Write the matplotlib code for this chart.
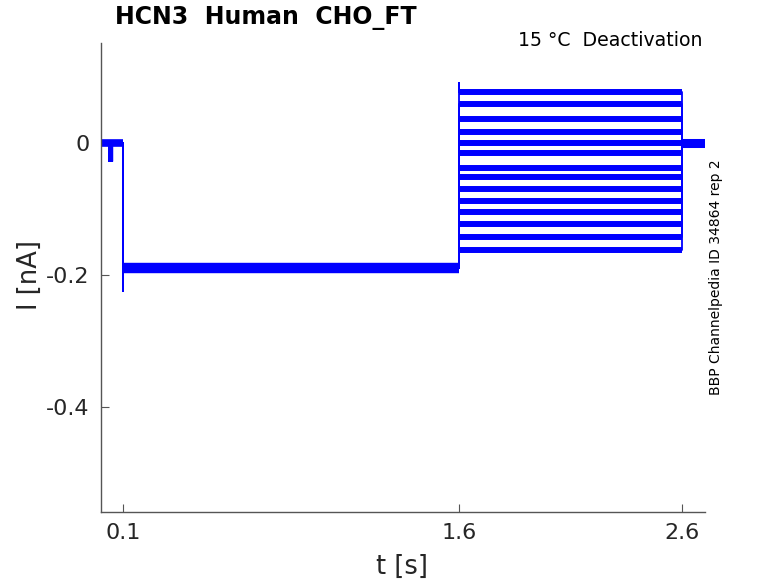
import matplotlib
matplotlib.use("Agg")
import matplotlib.pyplot as plt

# time points (s) of the protocol: baseline, holding, test pulse, tail
t_start = 0.0
t_dip = [0.036, 0.050]
t_hold = 0.1
t_test = 1.6
t_end = 2.6
t_stop = 2.7

# currents (nA)
base_level = 0.0
dip_level = -0.027
hold_spike = -0.224
hold_level = -0.19
test_spike = 0.092
test_levels = [0.078, 0.059, 0.036, 0.017, 0.0005, -0.015, -0.037,
               -0.051, -0.069, -0.088, -0.104, -0.123, -0.142, -0.162]
tail_level = 0.0

col = "#0000ff"

fig = plt.figure(figsize=(7.78, 5.83), dpi=100)
ax = fig.add_axes([0.1298, 0.1213, 0.776, 0.8049])

for k, lev in enumerate(test_levels):
    top = test_spike if k == 0 else lev
    t = [t_start, t_dip[0], t_dip[0], t_dip[1], t_dip[1], t_hold, t_hold, t_hold,
         t_test, t_test, t_test, t_end, t_end, t_stop]
    y = [base_level, base_level, dip_level, dip_level, base_level, base_level,
         hold_spike, hold_level, hold_level, top, lev, lev, tail_level, tail_level]
    # thin sweep (steps), then a thicker band for the noisy test level
    ax.plot(t, y, color=col, lw=1.3)
    ax.plot([t_test, t_end], [lev, lev], color=col, lw=4.3, solid_capstyle="butt")

# holding and baseline segments look thicker (many sweeps on top of each other)
ax.plot([t_hold + 0.005, t_test], [hold_level, hold_level], color=col, lw=7.5,
        solid_capstyle="butt")
ax.plot([t_start, t_hold], [base_level, base_level], color=col, lw=5.5,
        solid_capstyle="butt")
t_dip_mid = (t_dip[0] + t_dip[1]) / 2
ax.plot([t_dip_mid, t_dip_mid], [base_level, dip_level], color=col, lw=2.5,
        solid_capstyle="butt")
ax.plot([t_end, t_stop], [tail_level, tail_level], color=col, lw=6.5,
        solid_capstyle="butt")

ax.set_xlim(0, 2.7)
ax.set_ylim(-0.56, 0.152)
ax.set_xticks([0.1, 1.6, 2.6])
ax.set_xticklabels(["0.1", "1.6", "2.6"])
ax.set_yticks([-0.4, -0.2, 0])
ax.set_yticklabels(["-0.4", "-0.2", "0"])
for s in ["top", "right"]:
    ax.spines[s].set_visible(False)
for s in ["left", "bottom"]:
    ax.spines[s].set_color("#555555")
    ax.spines[s].set_linewidth(1.0)
ax.tick_params(direction="in", length=6, width=0.8, color="#555555",
               labelsize=16, labelcolor="#262626", pad=8)

fig.text(402 / 778, 1 - 567 / 583, "t [s]", fontsize=18.5, color="#262626",
         ha="center", va="center")
fig.text(30 / 778, 1 - 275 / 583, "I [nA]", fontsize=18.5, color="#262626",
         ha="center", va="center", rotation=90)
fig.text(115 / 778, 1 - 18 / 583, "HCN3  Human  CHO_FT", fontsize=17,
         fontweight="bold", ha="left", va="center")
fig.text(703 / 778, 1 - 41 / 583, "15 \u00b0C  Deactivation", fontsize=13.6,
         ha="right", va="center")
fig.text(716 / 778, 1 - 277 / 583, "BBP Channelpedia ID 34864 rep 2",
         fontsize=10, ha="center", va="center", rotation=90)

fig.savefig("out.png", dpi=100)
